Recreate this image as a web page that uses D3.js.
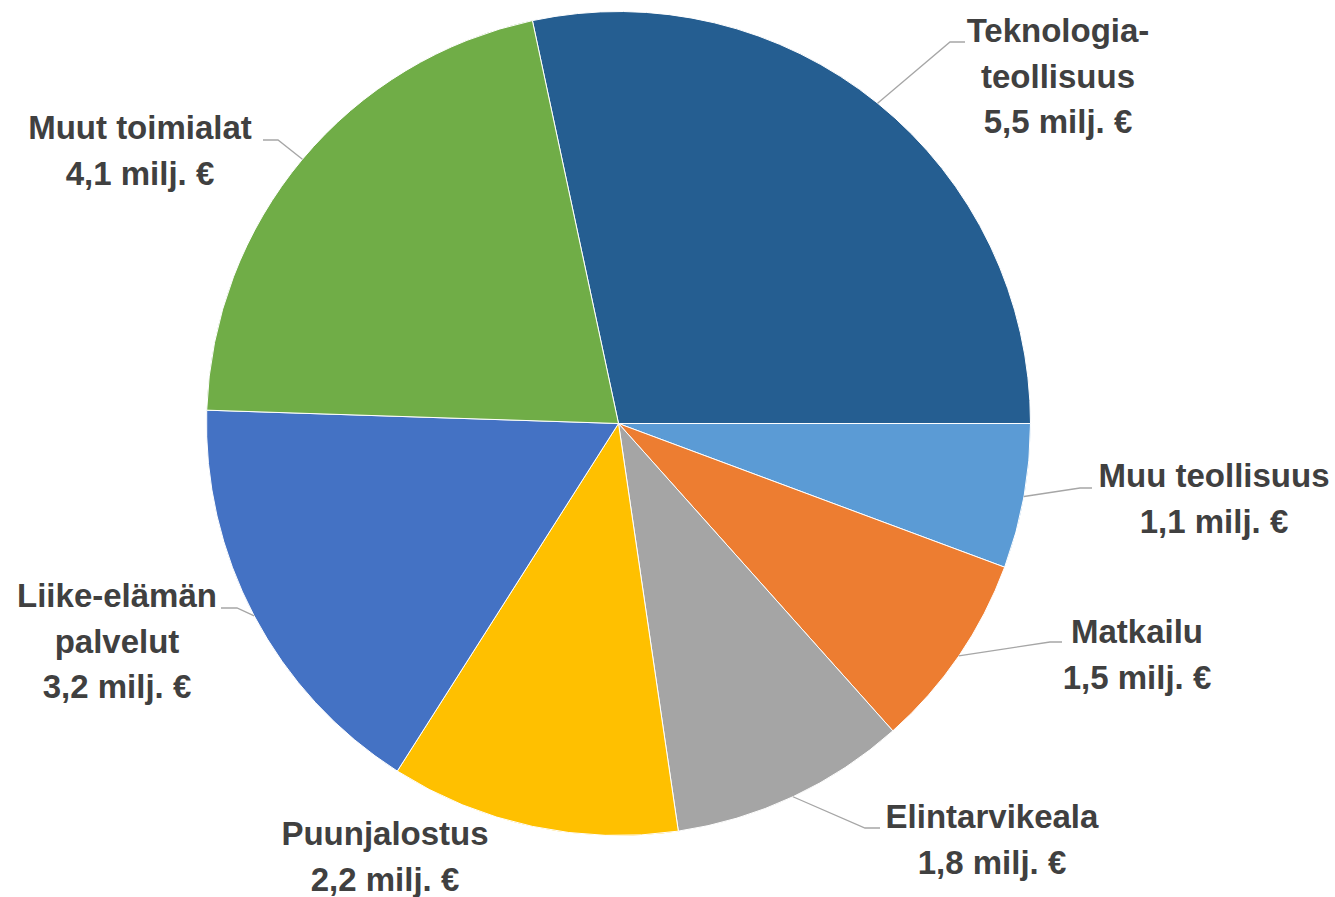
<!DOCTYPE html>
<html>
<head>
<meta charset="utf-8">
<script src="https://cdn.jsdelivr.net/npm/d3@7"></script>
<style>
  body { margin: 0; background: #ffffff; }
  svg { display: block; }
  .label { font-family: "Liberation Sans", Arial, sans-serif; font-weight: bold; font-size: 33px; fill: #404040; }
</style>
</head>
<body>
<svg id="chart" width="1335" height="897"></svg>
<script>
// data
const categories = ["Teknologia-|teollisuus", "Muu teollisuus", "Matkailu", "Elintarvikeala",
                    "Puunjalostus", "Liike-elämän|palvelut", "Muut toimialat"];
const values = [5.5, 1.1, 1.5, 1.8, 2.2, 3.2, 4.1];
const colors = ["#255E91", "#5B9BD5", "#ED7D31", "#A5A5A5", "#FFC000", "#4472C4", "#70AD47"];

// label layout: centre x, first baseline y, leader elbow [x,y] and end [x,y] (null = no leader)
const labelPos = [
    { x: 1058, y: 42,  elbow: [950, 42],  end: [965, 42] },
    { x: 1214, y: 487, elbow: [1080, 488], end: [1092, 488] },
    { x: 1137, y: 643, elbow: [1050, 642], end: [1062, 642] },
    { x: 992,  y: 828, elbow: [865, 828],  end: [880, 828] },
    { x: 385,  y: 845, elbow: null,        end: null },
    { x: 117,  y: 607, elbow: [237, 608],  end: [221, 608] },
    { x: 140,  y: 139, elbow: [278, 140],  end: [263, 140] }
];

const cx = 618.5, cy = 423.5, radius = 412;
const lineGap = 45.5;

const data = categories.map((c, i) => ({ name: c, value: values[i], color: colors[i], pos: labelPos[i] }));
const total = d3.sum(values);
const firstAngle = Math.PI / 2 - values[0] / total * 2 * Math.PI;

const pie = d3.pie()
    .sort(null)
    .value(d => d.value)
    .startAngle(firstAngle)
    .endAngle(firstAngle + 2 * Math.PI);

const arc = d3.arc().innerRadius(0).outerRadius(radius);

const svg = d3.select('#chart');
const g = svg.append('g').attr('transform', `translate(${cx}, ${cy})`);

const arcs = pie(data);

g.selectAll('path.slice')
    .data(arcs)
    .enter()
    .append('path')
    .attr('class', 'slice')
    .attr('d', arc)
    .attr('fill', d => d.data.color)
    .attr('stroke', '#ffffff')
    .attr('stroke-width', 1);

// leader lines
arcs.forEach(d => {
    const p = d.data.pos;
    if (!p.elbow) return;
    const mid = (d.startAngle + d.endAngle) / 2;
    const sx = cx + radius * Math.sin(mid);
    const sy = cy - radius * Math.cos(mid);
    svg.append('polyline')
        .attr('points', `${sx},${sy} ${p.elbow[0]},${p.elbow[1]} ${p.end[0]},${p.end[1]}`)
        .attr('fill', 'none')
        .attr('stroke', '#A6A6A6')
        .attr('stroke-width', 1.3);
});

// labels
arcs.forEach(d => {
    const p = d.data.pos;
    const lines = d.data.name.split('|');
    lines.push(d3.format('.1f')(d.data.value).replace('.', ',') + ' milj. €');
    const t = svg.append('text')
        .attr('class', 'label')
        .attr('text-anchor', 'middle');
    lines.forEach((l, i) => {
        t.append('tspan')
            .attr('x', p.x)
            .attr('y', p.y + i * lineGap)
            .text(l);
    });
});
</script>
</body>
</html>
